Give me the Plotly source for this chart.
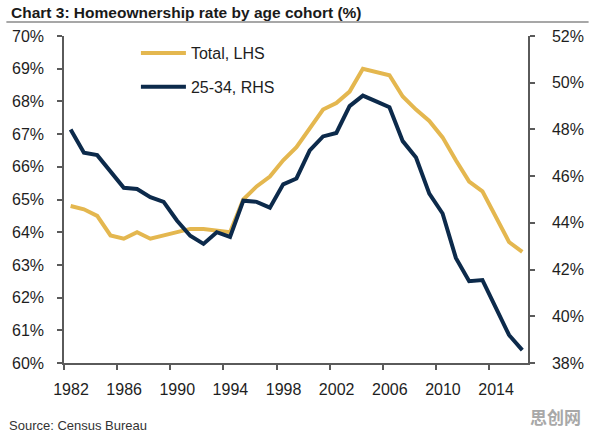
import plotly.graph_objects as go

years = list(range(1982, 2017))
total_lhs = [64.8, 64.7, 64.5, 63.9, 63.8, 64.0, 63.8, 63.9, 64.0, 64.1,
             64.1, 64.05, 64.0, 65.0, 65.4, 65.7, 66.2, 66.6, 67.2, 67.75,
             67.95, 68.3, 69.0, 68.9, 68.8, 68.15, 67.75, 67.4, 66.9, 66.2,
             65.55, 65.25, 64.5, 63.7, 63.4]
age_25_34_rhs = [48.0, 47.0, 46.9, 46.2, 45.5, 45.45, 45.1, 44.9, 44.1, 43.45,
                 43.1, 43.6, 43.4, 44.95, 44.9, 44.65, 45.65, 45.9, 47.1, 47.7,
                 47.85, 49.0, 49.45, 49.2, 48.95, 47.5, 46.8, 45.25, 44.4, 42.5,
                 41.5, 41.55, 40.4, 39.2, 38.55]
x_ticks = [1982, 1986, 1990, 1994, 1998, 2002, 2006, 2010, 2014]
left_ticks = list(range(60, 71))
right_ticks = list(range(38, 53, 2))

title_text = "Chart 3: Homeownership rate by age cohort (%)"
source_text = "Source: Census Bureau"

YELLOW = "#E4B74F"
NAVY = "#0C2A4B"
AXIS = "#5a5a5a"
TXT = "#1e1e1e"

xmid = [y + 0.5 for y in years]  # annual values plotted at mid-year

fig = go.Figure()
fig.add_trace(go.Scatter(x=xmid, y=total_lhs, name="Total, LHS", mode="lines",
                         line=dict(color=YELLOW, width=4), legendgroup="a"))
fig.add_trace(go.Scatter(x=xmid, y=age_25_34_rhs, name="25-34, RHS", mode="lines",
                         line=dict(color=NAVY, width=4), yaxis="y2", legendgroup="b"))

tickfont = dict(family="Liberation Sans, Arial, sans-serif", size=16, color=TXT)

fig.update_layout(
    width=596, height=439,
    margin=dict(l=63, r=66, t=36, b=76),
    paper_bgcolor="white", plot_bgcolor="white",
    showlegend=True,
    legend=dict(x=0.155, y=1.0, xanchor="left", yanchor="top",
                font=dict(family="Liberation Sans, Arial, sans-serif", size=16, color=TXT),
                bgcolor="rgba(0,0,0,0)", itemwidth=45, tracegroupgap=10,
                traceorder="grouped"),
    xaxis=dict(range=[1982, 2016.93], tickvals=x_ticks, ticktext=[str(v) for v in x_ticks],
               showgrid=False, zeroline=False, showline=True, linecolor=AXIS, linewidth=1.5,
               ticks="outside", ticklen=5, tickcolor=AXIS, tickwidth=1.5,
               tickfont=tickfont, ticklabelshift=7, ticklabelstandoff=6),
    yaxis=dict(range=[60, 70], tickvals=left_ticks, ticktext=[f"{v}%" for v in left_ticks],
               showgrid=False, zeroline=False, showline=True, linecolor=AXIS, linewidth=1.5,
               ticks="outside", ticklen=5, tickcolor=AXIS, tickwidth=1.5,
               tickfont=tickfont, ticklabelstandoff=10),
    yaxis2=dict(range=[38, 52], tickvals=right_ticks, ticktext=[f"{v}%" for v in right_ticks],
                overlaying="y", side="right",
                showgrid=False, zeroline=False, showline=True, linecolor=AXIS, linewidth=1.5,
                ticks="outside", ticklen=5, tickcolor=AXIS, tickwidth=1.5,
                tickfont=tickfont, ticklabelstandoff=14),
)

fig.add_annotation(text=f"<b>{title_text}</b>", xref="paper", yref="paper",
                   x=-63/467 + 8/467, y=1 + (36 - 12)/327, xanchor="left", yanchor="middle",
                   showarrow=False,
                   font=dict(family="Liberation Sans, Arial, sans-serif", size=15.5, color="#1a1a1a"))
fig.add_shape(type="line", xref="paper", yref="paper",
              x0=-58/467, x1=(591 - 63)/467, y0=1 + (36 - 22)/327, y1=1 + (36 - 22)/327,
              line=dict(color="#8a8a8a", width=1.5))
fig.add_annotation(text=source_text, xref="paper", yref="paper",
                   x=-63/467 + 6/467, y=-(425 - 363)/327, xanchor="left", yanchor="middle",
                   showarrow=False,
                   font=dict(family="Liberation Sans, Arial, sans-serif", size=13, color="#333333"))
fig.add_annotation(text="<b>思创网</b>", xref="paper", yref="paper",
                   x=(558 - 63)/467, y=-(417 - 363)/327, xanchor="center", yanchor="middle",
                   showarrow=False,
                   font=dict(family="Noto Sans CJK SC, sans-serif", size=17, color="#a8a8a8"))

fig.write_html("out.html")
